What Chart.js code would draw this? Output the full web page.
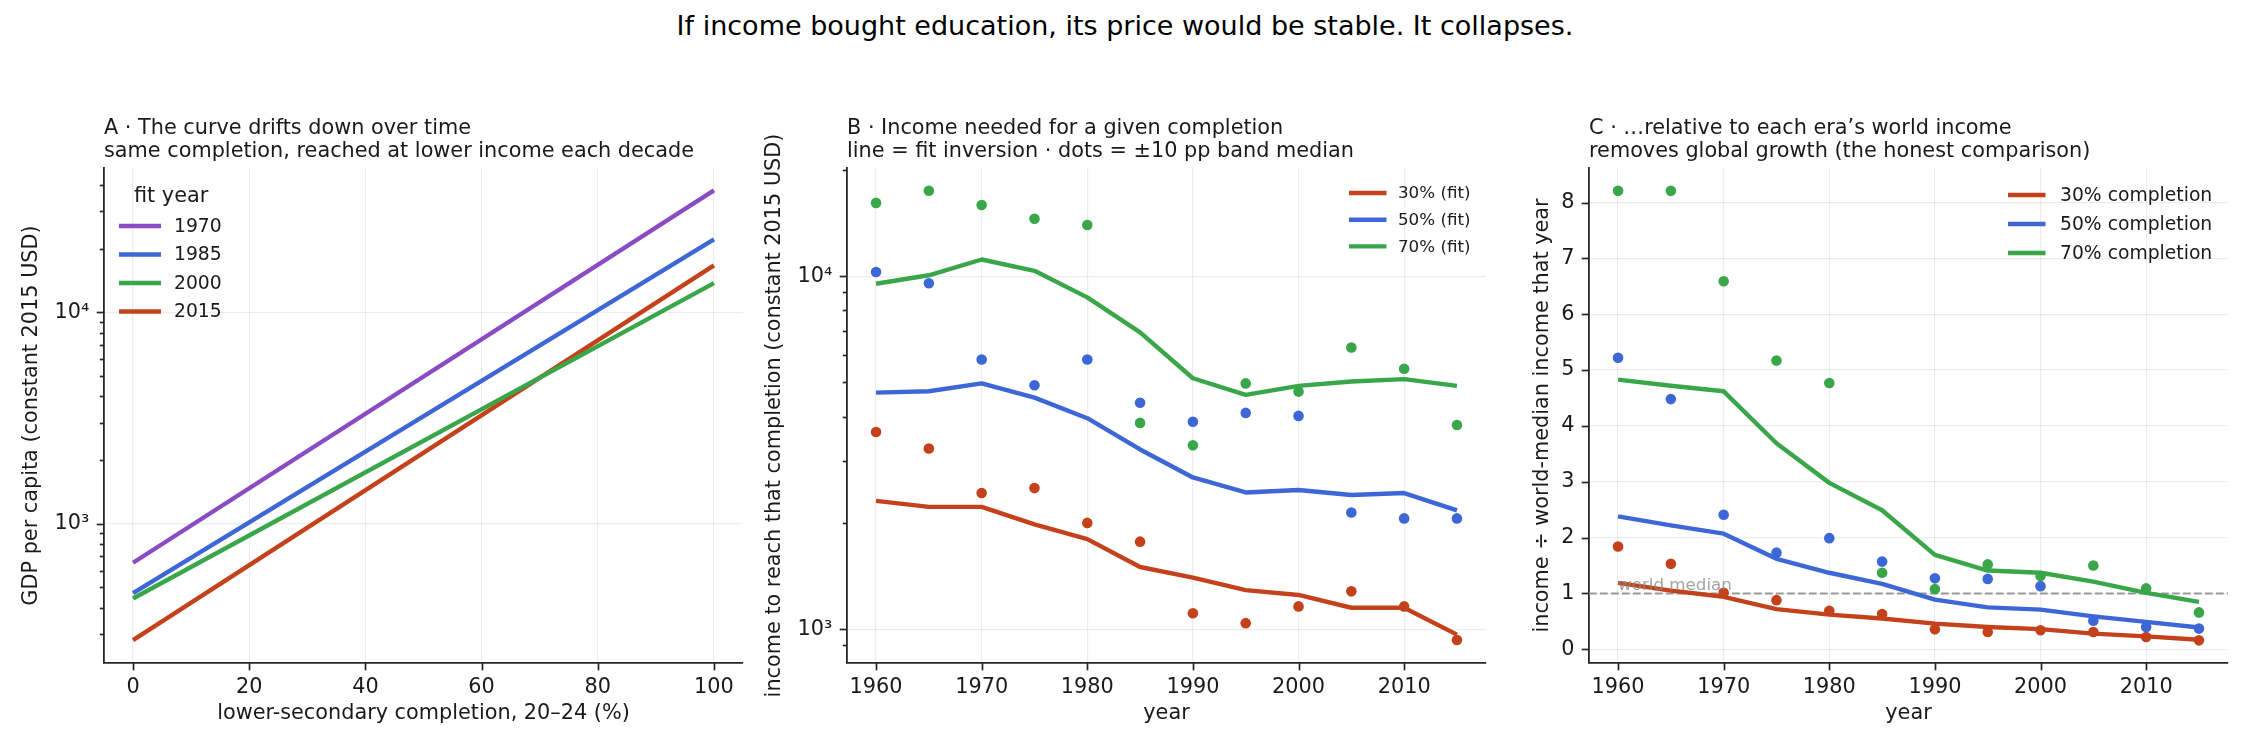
<!DOCTYPE html>
<html><head><meta charset="utf-8">
<script src="https://cdn.jsdelivr.net/npm/chart.js@4.4.1/dist/chart.umd.min.js"></script>
<style>
html,body{margin:0;padding:0;background:#fff;}
#wrap{position:relative;width:2250px;height:750px;overflow:hidden;background:#fff;}
canvas{position:absolute;top:0;}
#sup{position:absolute;left:0;width:2250px;top:11px;text-align:center;font-family:'DejaVu Sans';font-size:27px;line-height:30px;color:#000;white-space:nowrap;}
</style></head><body>
<div id="wrap">
<div id="sup">If income bought education, its price would be stable. It collapses.</div>
<canvas id="cA" width="760" height="750" style="left:0px"></canvas>
<canvas id="cB" width="750" height="750" style="left:760px"></canvas>
<canvas id="cC" width="740" height="750" style="left:1510px"></canvas>
</div>
<script>
// ---------------- data ----------------
const COMPLETION = [0, 100];
const FIT_YEARS = ['1970', '1985', '2000', '2015'];
const A_FIT_1970 = [653, 37760];
const A_FIT_1985 = [469, 22110];
const A_FIT_2000 = [442, 13740];
const A_FIT_2015 = [281, 16680];
const A_X_TICKS = [0, 20, 40, 60, 80, 100];
const LOG_MAJOR = [1000, 10000];
const LOG_MAJOR_LABELS = ['10\u00B3', '10\u2074'];
const A_Y_MINOR = [300, 400, 500, 600, 700, 800, 900, 2000, 3000, 4000, 5000, 6000, 7000, 8000, 9000, 20000, 30000, 40000];

const YEARS = [1960, 1965, 1970, 1975, 1980, 1985, 1990, 1995, 2000, 2005, 2010, 2015];
const YEAR_TICKS = [1960, 1970, 1980, 1990, 2000, 2010];
const LEVEL_LABELS_B = ['30% (fit)', '50% (fit)', '70% (fit)'];
const LEVEL_LABELS_C = ['30% completion', '50% completion', '70% completion'];

const B_FIT_30 = [2310, 2220, 2220, 1980, 1800, 1500, 1400, 1290, 1250, 1150, 1150, 965];
const B_FIT_50 = [4680, 4720, 4970, 4530, 3960, 3230, 2690, 2440, 2480, 2400, 2430, 2170];
const B_FIT_70 = [9520, 10060, 11150, 10360, 8710, 6930, 5140, 4610, 4890, 5030, 5110, 4890];
const B_DOT_30 = [3620, 3250, 2430, 2510, 2000, 1770, 1110, 1040, 1160, 1280, 1160, 932];
const B_DOT_50 = [10280, 9550, 5810, 4910, 5810, 4380, 3870, 4100, 4020, 2140, 2060, 2060];
const B_DOT_70 = [16130, 17460, 15910, 14550, 13970, 3840, 3320, 4970, 4710, 6280, 5470, 3790];
const B_Y_MINOR = [900, 2000, 3000, 4000, 5000, 6000, 7000, 8000, 9000, 20000];

const C_FIT_30 = [1.19, 1.05, 0.94, 0.72, 0.62, 0.55, 0.46, 0.40, 0.36, 0.28, 0.23, 0.17];
const C_FIT_50 = [2.38, 2.22, 2.07, 1.62, 1.37, 1.17, 0.89, 0.75, 0.71, 0.59, 0.49, 0.39];
const C_FIT_70 = [4.83, 4.72, 4.62, 3.69, 2.98, 2.49, 1.69, 1.41, 1.37, 1.21, 1.01, 0.85];
const C_DOT_30 = [1.84, 1.53, 1.01, 0.88, 0.69, 0.63, 0.36, 0.31, 0.34, 0.31, 0.22, 0.16];
const C_DOT_50 = [5.22, 4.48, 2.41, 1.73, 1.99, 1.57, 1.27, 1.26, 1.13, 0.51, 0.40, 0.37];
const C_DOT_70 = [8.21, 8.21, 6.59, 5.17, 4.77, 1.37, 1.08, 1.52, 1.31, 1.50, 1.09, 0.66];
const C_Y_TICKS = [0, 1, 2, 3, 4, 5, 6, 7, 8];
const WORLD_MEDIAN = 1;
const WORLD_MEDIAN_LABEL = 'world median';

// ---------------- style ----------------
const FONT = 'DejaVu Sans';
const RED = '#c4421b', BLUE = '#3d67d6', GREEN = '#3aa64a', PURPLE = '#8a4cc4';
const INK = '#1a1a1a', SPINE = '#262626', GRID = 'rgba(0,0,0,0.075)';
Chart.defaults.font.family = FONT;
Chart.defaults.color = INK;

const pts = (xs, ys) => xs.map((x, i) => ({x: x, y: ys[i]}));

function lineDS(label, xs, ys, color, order) {
  return {type: 'line', label: label, data: pts(xs, ys), borderColor: color, backgroundColor: color,
    borderWidth: 4.4, pointRadius: 0, pointHoverRadius: 0, tension: 0, fill: false,
    borderJoinStyle: 'round', inLegend: true, order: order};
}
function dotDS(label, xs, ys, color, order) {
  return {type: 'line', label: label, data: pts(xs, ys), showLine: false, borderColor: color,
    backgroundColor: color, pointBackgroundColor: color, pointBorderWidth: 0, pointRadius: 5.3,
    pointHoverRadius: 5.3, inLegend: false, order: order};
}

// tick marks drawn like matplotlib (major / minor)
const tickMarks = {
  id: 'tickMarks',
  afterDraw(chart) {
    const ctx = chart.ctx, ca = chart.chartArea;
    ctx.save();
    ctx.strokeStyle = SPINE; ctx.lineWidth = 1.7;
    for (const s of Object.values(chart.scales)) {
      for (const t of s.ticks) {
        const len = t.isMinor ? 4.2 : 7.3;
        const p = Math.round(s.getPixelForValue(t.value)) + 0.5;
        ctx.beginPath();
        if (s.axis === 'x') { ctx.moveTo(p, ca.bottom); ctx.lineTo(p, ca.bottom + len); }
        else { ctx.moveTo(ca.left, p); ctx.lineTo(ca.left - len, p); }
        ctx.stroke();
      }
    }
    ctx.restore();
  }
};

function makeLegend(cfg) {
  return {
    id: 'customLegend',
    afterDraw(chart) {
      const ctx = chart.ctx;
      ctx.save();
      ctx.textBaseline = 'middle'; ctx.textAlign = 'left';
      if (cfg.title) {
        ctx.font = cfg.titleFont + 'px "' + FONT + '"';
        ctx.fillStyle = INK;
        ctx.fillText(cfg.title, cfg.titleX, cfg.titleY);
      }
      ctx.font = cfg.font + 'px "' + FONT + '"';
      const items = chart.data.datasets.filter(d => d.inLegend);
      items.forEach((d, i) => {
        const y = cfg.y + i * cfg.rowGap;
        ctx.strokeStyle = d.borderColor; ctx.lineWidth = 4.4; ctx.lineCap = 'butt';
        ctx.beginPath(); ctx.moveTo(cfg.x, y); ctx.lineTo(cfg.x + cfg.lineLen, y); ctx.stroke();
        ctx.fillStyle = INK;
        ctx.fillText(d.label, cfg.textX, y + 1);
      });
      ctx.restore();
    }
  };
}

const medianPlugin = {
  id: 'medianLine',
  beforeDatasetsDraw(chart) {
    const ctx = chart.ctx, ca = chart.chartArea;
    const y = chart.scales.y.getPixelForValue(WORLD_MEDIAN);
    ctx.save();
    ctx.strokeStyle = '#9a9a9a'; ctx.lineWidth = 2; ctx.setLineDash([7.7, 3.3]);
    ctx.beginPath(); ctx.moveTo(ca.left, y); ctx.lineTo(ca.right, y); ctx.stroke();
    ctx.restore();
  },
  afterDatasetsDraw(chart) {
    const ctx = chart.ctx;
    const y = chart.scales.y.getPixelForValue(WORLD_MEDIAN);
    const x = chart.scales.x.getPixelForValue(YEARS[0]);
    ctx.save();
    ctx.font = '16.7px "' + FONT + '"';
    ctx.fillStyle = 'rgba(140,140,140,0.8)';
    ctx.textBaseline = 'alphabetic'; ctx.textAlign = 'left';
    ctx.fillText(WORLD_MEDIAN_LABEL, x, y - 3);
    ctx.restore();
  }
};

function setTicks(major, minor) {
  return function (s) {
    const arr = major.map(v => ({value: v}));
    (minor || []).forEach(v => arr.push({value: v, isMinor: true}));
    arr.sort((a, b) => a.value - b.value);
    s.ticks = arr;
  };
}

function gridCfg() {
  return {
    color: (c) => (c.tick && c.tick.isMinor) ? 'rgba(0,0,0,0)' : GRID,
    lineWidth: 1.2, drawTicks: true, tickLength: 7.3, tickColor: 'rgba(0,0,0,0)'
  };
}

function axisX(min, max, ticks, title, height) {
  return {
    type: 'linear', position: 'bottom', min: min, max: max,
    afterBuildTicks: setTicks(ticks),
    afterFit: (s) => { s.height = height; },
    grid: gridCfg(),
    border: {display: true, color: SPINE, width: 1.8},
    ticks: {autoSkip: false, maxRotation: 0, minRotation: 0, padding: 5, color: INK,
      font: {size: 20.8}, callback: (v) => String(v)},
    title: {display: true, text: title, color: INK, font: {size: 20.8, lineHeight: 1.2},
      padding: {top: 0, bottom: 23.5}}
  };
}

function axisY(type, min, max, major, minor, labelFn, title, width, titlePad) {
  return {
    type: type, position: 'left', min: min, max: max,
    afterBuildTicks: setTicks(major, minor),
    afterFit: (s) => { s.width = width; },
    grid: gridCfg(),
    border: {display: true, color: SPINE, width: 1.8},
    ticks: {autoSkip: false, padding: 7.3, color: INK, font: {size: 20.8}, callback: labelFn},
    title: {display: true, text: title, color: INK, font: {size: 20.8, lineHeight: 1.2},
      padding: {top: titlePad, bottom: 0}}
  };
}

const logLabel = (v) => {
  const i = LOG_MAJOR.indexOf(v);
  return i >= 0 ? LOG_MAJOR_LABELS[i] : '';
};

function baseOptions(titleLines, padRight, scales) {
  return {
    responsive: false, animation: false, devicePixelRatio: 1,
    layout: {padding: {left: 0, right: padRight, top: 0, bottom: 0}},
    plugins: {
      legend: {display: false}, tooltip: {enabled: false},
      title: {display: true, text: titleLines, align: 'start', fullSize: false, color: INK,
        font: {size: 20.8, weight: 'normal', lineHeight: 1.105},
        padding: {top: 117, bottom: 5}}
    },
    scales: scales
  };
}

// ---------------- panel A ----------------
new Chart(document.getElementById('cA'), {
  type: 'line',
  data: {datasets: [
    lineDS(FIT_YEARS[0], COMPLETION, A_FIT_1970, PURPLE, 1),
    lineDS(FIT_YEARS[1], COMPLETION, A_FIT_1985, BLUE, 1),
    lineDS(FIT_YEARS[2], COMPLETION, A_FIT_2000, GREEN, 1),
    lineDS(FIT_YEARS[3], COMPLETION, A_FIT_2015, RED, 1)
  ]},
  options: baseOptions(['A \u00B7 The curve drifts down over time', 'same completion, reached at lower income each decade'], 17, {
    x: axisX(-5, 105, A_X_TICKS, 'lower-secondary completion, 20\u201324 (%)', 87),
    y: axisY('logarithmic', 219, 48200, LOG_MAJOR, A_Y_MINOR, logLabel, 'GDP per capita (constant 2015 USD)', 104, 19.5)
  }),
  plugins: [tickMarks, makeLegend({title: 'fit year', titleFont: 20.8, titleX: 134, titleY: 197,
    font: 18.75, x: 119, lineLen: 42, textX: 174, y: 226, rowGap: 28.5})]
});

// ---------------- panel B ----------------
new Chart(document.getElementById('cB'), {
  type: 'line',
  data: {datasets: [
    lineDS(LEVEL_LABELS_B[0], YEARS, B_FIT_30, RED, 6),
    lineDS(LEVEL_LABELS_B[1], YEARS, B_FIT_50, BLUE, 4),
    lineDS(LEVEL_LABELS_B[2], YEARS, B_FIT_70, GREEN, 2),
    dotDS('30% band', YEARS, B_DOT_30, RED, 5),
    dotDS('50% band', YEARS, B_DOT_50, BLUE, 3),
    dotDS('70% band', YEARS, B_DOT_70, GREEN, 1)
  ]},
  options: baseOptions(['B \u00B7 Income needed for a given completion', 'line = fit inversion \u00B7 dots = \u00B110 pp band median'], 24, {
    x: axisX(1957.25, 2017.75, YEAR_TICKS, 'year', 87),
    y: axisY('logarithmic', 802, 20260, LOG_MAJOR, B_Y_MINOR, logLabel, 'income to reach that completion (constant 2015 USD)', 87, 2.5)
  }),
  plugins: [tickMarks, makeLegend({font: 16.7, x: 589, lineLen: 37.5, textX: 638, y: 193, rowGap: 26.7})]
});

// ---------------- panel C ----------------
new Chart(document.getElementById('cC'), {
  type: 'line',
  data: {datasets: [
    lineDS(LEVEL_LABELS_C[0], YEARS, C_FIT_30, RED, 6),
    lineDS(LEVEL_LABELS_C[1], YEARS, C_FIT_50, BLUE, 4),
    lineDS(LEVEL_LABELS_C[2], YEARS, C_FIT_70, GREEN, 2),
    dotDS('30% band', YEARS, C_DOT_30, RED, 5),
    dotDS('50% band', YEARS, C_DOT_50, BLUE, 3),
    dotDS('70% band', YEARS, C_DOT_70, GREEN, 1)
  ]},
  options: baseOptions(['C \u00B7 \u2026relative to each era\u2019s world income', 'removes global growth (the honest comparison)'], 22, {
    x: axisX(1957.25, 2017.75, YEAR_TICKS, 'year', 87),
    y: axisY('linear', -0.246, 8.62, C_Y_TICKS, null, (v) => String(v), 'income \u00F7 world-median income that year', 79, 20.5)
  }),
  plugins: [tickMarks, medianPlugin, makeLegend({font: 18.75, x: 498, lineLen: 37.5, textX: 550, y: 195, rowGap: 29})]
});
</script>
</body></html>
